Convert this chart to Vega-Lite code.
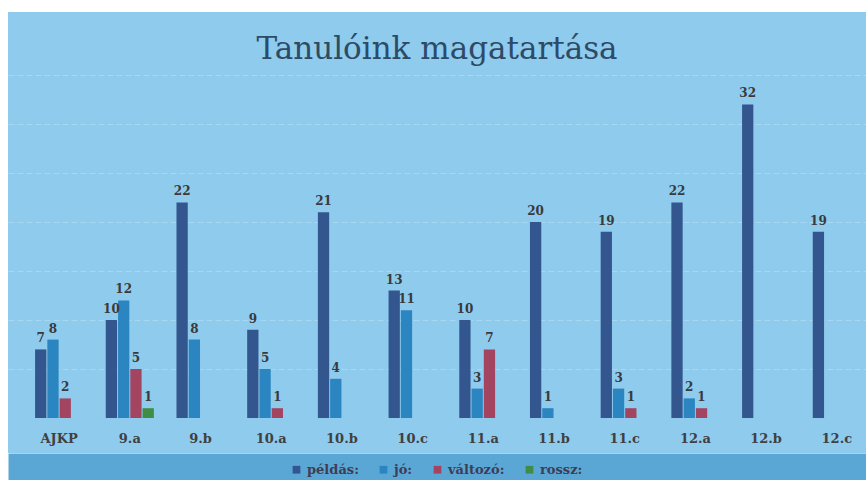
{
  "$schema": "https://vega.github.io/schema/vega-lite/v6.json",
  "width": 858,
  "height": 441,
  "autosize": {"type": "none"},
  "padding": {"left": 8, "top": 12, "right": 0, "bottom": 27},
  "background": "#ffffff",
  "title": {
    "text": "Tanulóink magatartása",
    "font": "DejaVu Serif",
    "fontSize": 31,
    "fontWeight": "normal",
    "color": "#2d4a66",
    "anchor": "middle",
    "baseline": "alphabetic",
    "offset": -78
  },
  "config": {"view": {"fill": "#8fcbed", "stroke": null}},
  "data": {
    "values": [
      {"osztaly": "AJKP", "ertekeles": "példás", "db": 7},
      {"osztaly": "AJKP", "ertekeles": "jó", "db": 8},
      {"osztaly": "AJKP", "ertekeles": "változó", "db": 2},
      {"osztaly": "9.a", "ertekeles": "példás", "db": 10},
      {"osztaly": "9.a", "ertekeles": "jó", "db": 12},
      {"osztaly": "9.a", "ertekeles": "változó", "db": 5},
      {"osztaly": "9.a", "ertekeles": "rossz", "db": 1},
      {"osztaly": "9.b", "ertekeles": "példás", "db": 22},
      {"osztaly": "9.b", "ertekeles": "jó", "db": 8},
      {"osztaly": "10.a", "ertekeles": "példás", "db": 9},
      {"osztaly": "10.a", "ertekeles": "jó", "db": 5},
      {"osztaly": "10.a", "ertekeles": "változó", "db": 1},
      {"osztaly": "10.b", "ertekeles": "példás", "db": 21},
      {"osztaly": "10.b", "ertekeles": "jó", "db": 4},
      {"osztaly": "10.c", "ertekeles": "példás", "db": 13},
      {"osztaly": "10.c", "ertekeles": "jó", "db": 11},
      {"osztaly": "11.a", "ertekeles": "példás", "db": 10},
      {"osztaly": "11.a", "ertekeles": "jó", "db": 3},
      {"osztaly": "11.a", "ertekeles": "változó", "db": 7},
      {"osztaly": "11.b", "ertekeles": "példás", "db": 20},
      {"osztaly": "11.b", "ertekeles": "jó", "db": 1},
      {"osztaly": "11.c", "ertekeles": "példás", "db": 19},
      {"osztaly": "11.c", "ertekeles": "jó", "db": 3},
      {"osztaly": "11.c", "ertekeles": "változó", "db": 1},
      {"osztaly": "12.a", "ertekeles": "példás", "db": 22},
      {"osztaly": "12.a", "ertekeles": "jó", "db": 2},
      {"osztaly": "12.a", "ertekeles": "változó", "db": 1},
      {"osztaly": "12.b", "ertekeles": "példás", "db": 32},
      {"osztaly": "12.c", "ertekeles": "példás", "db": 19}
    ]
  },
  "encoding": {
    "x": {
      "field": "osztaly",
      "type": "nominal",
      "sort": ["AJKP", "9.a", "9.b", "10.a", "10.b", "10.c", "11.a", "11.b", "11.c", "12.a", "12.b", "12.c"],
      "scale": {"paddingInner": 0.32, "paddingOuter": 0.228, "align": 0.84},
      "axis": {
        "title": null,
        "labelAngle": 0,
        "labelFont": "DejaVu Serif",
        "labelFontWeight": "bold",
        "labelFontSize": 13,
        "labelColor": "#404040",
        "labelBaseline": "alphabetic",
        "labelPadding": -24.5,
        "ticks": false,
        "offset": 13.5,
        "domain": true,
        "domainWidth": 27,
        "domainColor": "#5aa7d6",
        "domainCap": "butt",
        "grid": false
      }
    },
    "xOffset": {
      "field": "ertekeles",
      "type": "nominal",
      "sort": ["példás", "jó", "változó", "rossz"],
      "scale": {"domain": ["példás", "jó", "változó", "rossz"], "paddingInner": 0.08, "paddingOuter": 0}
    },
    "y": {
      "field": "db",
      "type": "quantitative",
      "scale": {"domain": [-3.571, 41.43], "nice": false, "zero": false},
      "axis": {
        "title": null,
        "values": [5, 10, 15, 20, 25, 30, 35],
        "labels": false,
        "ticks": false,
        "domain": false,
        "grid": true,
        "gridColor": "#d6effb",
        "gridDash": [6, 3],
        "gridOpacity": 0.35,
        "gridWidth": 1
      }
    }
  },
  "layer": [
    {
      "mark": {"type": "bar"},
      "encoding": {
        "color": {
          "field": "ertekeles",
          "type": "nominal",
          "scale": {"domain": ["példás", "jó", "változó", "rossz"], "range": ["#34568f", "#2b85c0", "#a34560", "#3e8c45"]},
          "legend": {
            "orient": "none",
            "legendX": 282,
            "legendY": 451,
            "direction": "horizontal",
            "title": null,
            "symbolType": "square",
            "symbolSize": 60,
            "symbolStrokeWidth": 0,
            "labelFont": "DejaVu Serif",
            "labelFontWeight": "bold",
            "labelFontSize": 13,
            "labelColor": "#3d3d55",
            "columnPadding": 18,
            "labelExpr": "datum.label + ':'"
          }
        }
      }
    },
    {
      "mark": {"type": "text", "baseline": "bottom", "dy": -4, "font": "DejaVu Serif", "fontWeight": "bold", "fontSize": 12, "color": "#3a3a3a"},
      "encoding": {"text": {"field": "db", "type": "quantitative"}}
    }
  ]
}
